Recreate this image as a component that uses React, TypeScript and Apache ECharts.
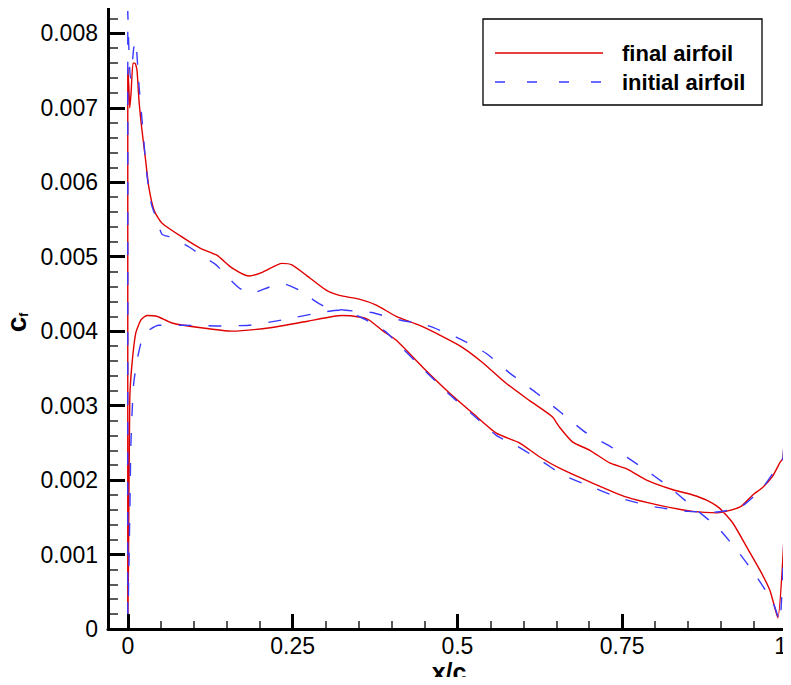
import React, { useEffect, useRef } from "react";
import * as echarts from "echarts";

// final airfoil: upper surface TE -> LE, stagnation, lower surface LE -> TE
const finalX = [
  1.0, 0.986, 0.974, 0.959, 0.939, 0.918, 0.898, 0.878, 0.857, 0.827, 0.787, 0.757, 0.731, 0.701, 0.675,
  0.655, 0.644, 0.609, 0.574, 0.538, 0.508, 0.477, 0.442, 0.407, 0.377, 0.351, 0.321, 0.301, 0.271, 0.249,
  0.234, 0.204, 0.184, 0.158, 0.135, 0.111, 0.085, 0.052, 0.04, 0.032, 0.027, 0.021, 0.017, 0.014, 0.011,
  0.008, 0.005, 0.003, 0.0015, 0.0, 0.0,
  0.001, 0.003, 0.006, 0.012, 0.02, 0.029, 0.044, 0.067, 0.108, 0.158, 0.219, 0.271, 0.325, 0.351, 0.366,
  0.386, 0.407, 0.447, 0.488, 0.523, 0.559, 0.594, 0.625, 0.655, 0.705, 0.757, 0.807, 0.857, 0.894, 0.929,
  0.948, 0.963, 0.978, 0.989, 0.994, 0.9985,
];
const finalY = [
  0.00204, 0.00015, 0.00052, 0.00079, 0.0011, 0.00142, 0.00162, 0.00173, 0.0018, 0.00187, 0.002, 0.00215,
  0.00223, 0.0024, 0.00251, 0.00271, 0.00285, 0.00307, 0.0033, 0.00358, 0.00378, 0.00393, 0.00408, 0.0042,
  0.00435, 0.00443, 0.00448, 0.00455, 0.00475, 0.00489, 0.00491, 0.00479, 0.00474, 0.00485, 0.00502,
  0.00511, 0.00525, 0.00545, 0.00562, 0.00593, 0.0063, 0.00674, 0.0071, 0.0075, 0.0076, 0.0076, 0.0072,
  0.007, 0.0073, 0.00754, 0.0,
  0.0008, 0.00307, 0.00352, 0.00397, 0.00415, 0.00421, 0.0042, 0.00411, 0.00405, 0.004, 0.00405, 0.00413,
  0.00421, 0.00419, 0.00415, 0.00401, 0.00388, 0.00352, 0.00317, 0.0029, 0.00263, 0.0025, 0.00231, 0.00216,
  0.00196, 0.00177, 0.00166, 0.00158, 0.00156, 0.00164, 0.0018, 0.0019, 0.00205, 0.00223, 0.0023, 0.00317,
];

// initial airfoil
const initialX = [
  0.998, 0.989, 0.979, 0.954, 0.924, 0.894, 0.857, 0.818, 0.78, 0.736, 0.696, 0.658, 0.62, 0.579, 0.544,
  0.498, 0.453, 0.407, 0.37, 0.331, 0.301, 0.278, 0.26, 0.234, 0.214, 0.187, 0.169, 0.149, 0.134, 0.111,
  0.093, 0.067, 0.052, 0.044, 0.036, 0.029, 0.021, 0.017, 0.014, 0.012, 0.009, 0.006, 0.004, 0.002, 0.0,
  0.0,
  0.001, 0.003, 0.0045, 0.006, 0.009, 0.015, 0.022, 0.03, 0.047, 0.082, 0.134, 0.184, 0.234, 0.286, 0.32,
  0.35, 0.368, 0.39, 0.41, 0.447, 0.488, 0.523, 0.559, 0.59, 0.625, 0.66, 0.7, 0.75, 0.8, 0.85, 0.89, 0.93,
  0.963, 0.989, 0.994, 0.9985,
];
const initialY = [
  0.00204, 0.0001, 0.00035, 0.0007, 0.00106, 0.00137, 0.00164, 0.00193, 0.00217, 0.00243, 0.00263, 0.0029,
  0.00317, 0.00344, 0.0037, 0.00392, 0.00408, 0.00416, 0.00425, 0.00428, 0.00432, 0.00444, 0.00455,
  0.00464, 0.00459, 0.00451, 0.00458, 0.00475, 0.00489, 0.00502, 0.00513, 0.00526, 0.0053, 0.0055, 0.0057,
  0.0061, 0.0069, 0.0073, 0.0077, 0.0079, 0.0078, 0.0075, 0.0074, 0.0077, 0.0083, 0.0,
  0.0, 0.0015, 0.0024, 0.0028, 0.0033, 0.00365, 0.0039, 0.004, 0.00408, 0.00408, 0.00407, 0.00408, 0.00415,
  0.00424, 0.00428, 0.0042, 0.00412, 0.004, 0.00383, 0.0035, 0.00315, 0.00288, 0.0026, 0.00246, 0.00227,
  0.00207, 0.00192, 0.00175, 0.00164, 0.00158, 0.00157, 0.00164, 0.0019, 0.00223, 0.0023, 0.00317,
];

const xMajor = [0, 0.25, 0.5, 0.75, 1];
const xMinor = [0.05, 0.1, 0.15, 0.2, 0.3, 0.35, 0.4, 0.45, 0.55, 0.6, 0.65, 0.7, 0.8, 0.85, 0.9, 0.95];
const yMajor = [0, 0.001, 0.002, 0.003, 0.004, 0.005, 0.006, 0.007, 0.008];
const yMinor = [
  0.0002, 0.0004, 0.0006, 0.0008, 0.0012, 0.0014, 0.0016, 0.0018, 0.0022, 0.0024, 0.0026, 0.0028, 0.0032,
  0.0034, 0.0036, 0.0038, 0.0042, 0.0044, 0.0046, 0.0048, 0.0052, 0.0054, 0.0056, 0.0058, 0.0062, 0.0064,
  0.0066, 0.0068, 0.0072, 0.0074, 0.0076, 0.0078, 0.0082,
];

const FONT = "'Liberation Sans', Arial, Helvetica, sans-serif";
const X_MIN = -0.03;
const X_MAX = 1.0;
const Y_MIN = 0;
const Y_MAX = 0.00834;

export default function App() {
  const ref = useRef<HTMLDivElement>(null);
  useEffect(() => {
    if (!ref.current) return;
    const chart = echarts.init(ref.current, undefined, { renderer: "svg" });
    const pairs = (xs: number[], ys: number[]) => xs.map((x, i) => [x, ys[i]]);
    const baseX = {
      type: "value",
      min: X_MIN,
      max: X_MAX,
      position: "bottom",
      offset: 0,
      splitLine: { show: false },
    };
    const baseY = {
      type: "value",
      min: Y_MIN,
      max: Y_MAX,
      position: "left",
      offset: 0,
      splitLine: { show: false },
    };
    chart.setOption({
      animation: false,
      backgroundColor: "#fff",
      grid: { left: 108, right: 4, top: 8, bottom: 56, containLabel: false, outerBoundsMode: "none" },
      xAxis: [
        {
          ...baseX,
          axisLine: { show: true, onZero: false, lineStyle: { color: "#000", width: 3 } },
          axisTick: {
            show: true,
            inside: true,
            length: 15,
            customValues: xMajor,
            lineStyle: { color: "#000", width: 3 },
          },
          axisLabel: {
            show: true,
            customValues: xMajor,
            margin: 5,
            fontFamily: FONT,
            fontSize: 23,
            lineHeight: 23,
            color: "#000",
            alignMaxLabel: "right",
            formatter: (v: number) => String(v),
          },
          z: 5,
        },
        {
          ...baseX,
          axisLine: { show: false, onZero: false },
          axisTick: {
            show: true,
            inside: true,
            length: 8,
            customValues: xMinor,
            lineStyle: { color: "#222", width: 1.5 },
          },
          axisLabel: { show: false },
        },
      ],
      yAxis: [
        {
          ...baseY,
          name: "{c|c}{f|f}",
          nameLocation: "middle",
          nameRotate: 90,
          nameGap: 78,
          nameMoveOverlap: false,
          nameTextStyle: {
            color: "#000",
            rich: {
              c: { fontFamily: FONT, fontSize: 28, fontWeight: "bold", color: "#000" },
              f: {
                fontFamily: FONT,
                fontSize: 12,
                fontWeight: "bold",
                color: "#000",
                verticalAlign: "bottom",
                padding: [0, 8, 0, 0],
              },
            },
          },
          axisLine: { show: true, onZero: false, lineStyle: { color: "#000", width: 3 } },
          axisTick: {
            show: true,
            inside: true,
            length: 17,
            customValues: yMajor,
            lineStyle: { color: "#000", width: 3 },
          },
          axisLabel: {
            show: true,
            customValues: yMajor,
            margin: 10,
            fontFamily: FONT,
            fontSize: 23,
            color: "#000",
            formatter: (v: number) => (v === 0 ? "0" : v.toFixed(3)),
          },
          z: 5,
        },
        {
          ...baseY,
          axisLine: { show: false, onZero: false },
          axisTick: {
            show: true,
            inside: true,
            length: 10,
            customValues: yMinor,
            lineStyle: { color: "#222", width: 1.5 },
          },
          axisLabel: { show: false },
        },
      ],
      series: [
        {
          name: "final airfoil",
          type: "line",
          xAxisIndex: 0,
          yAxisIndex: 0,
          data: pairs(finalX, finalY),
          showSymbol: false,
          symbol: "none",
          smooth: 0.2,
          clip: false,
          lineStyle: { color: "#e00000", width: 1.4 },
          z: 2,
        },
        {
          name: "initial airfoil",
          type: "line",
          xAxisIndex: 0,
          yAxisIndex: 0,
          data: pairs(initialX, initialY),
          showSymbol: false,
          symbol: "none",
          smooth: 0.2,
          clip: false,
          lineStyle: { color: "#3a3aff", width: 1.4, type: [13, 17] },
          z: 3,
        },
      ],
      graphic: [
        {
          type: "text",
          x: 449,
          y: 684,
          style: {
            text: "x/c",
            fontFamily: FONT,
            fontSize: 25,
            lineHeight: 25,
            fontWeight: "bold",
            fill: "#000",
            align: "center",
            verticalAlign: "bottom",
          },
          z: 11,
        },
        {
          type: "rect",
          shape: { x: 483, y: 19, width: 279, height: 86 },
          style: { fill: "#fff", stroke: "#000", lineWidth: 1.3 },
          z: 10,
        },
        {
          type: "line",
          shape: { x1: 495, y1: 53, x2: 603, y2: 53 },
          style: { stroke: "#e00000", lineWidth: 1.4 },
          z: 11,
        },
        {
          type: "line",
          shape: { x1: 495, y1: 82, x2: 603, y2: 82 },
          style: { stroke: "#3a3aff", lineWidth: 1.4, lineDash: [10, 22] },
          z: 11,
        },
        {
          type: "text",
          x: 622,
          y: 53,
          style: {
            text: "final airfoil",
            fontFamily: FONT,
            fontSize: 22,
            fontWeight: "bold",
            fill: "#000",
            verticalAlign: "middle",
            align: "left",
          },
          z: 11,
        },
        {
          type: "text",
          x: 622,
          y: 82,
          style: {
            text: "initial airfoil",
            fontFamily: FONT,
            fontSize: 22,
            fontWeight: "bold",
            fill: "#000",
            verticalAlign: "middle",
            align: "left",
          },
          z: 11,
        },
      ],
    });
    return () => chart.dispose();
  }, []);
  return <div ref={ref} style={{ width: 791, height: 685, margin: -8 }} />;
}
